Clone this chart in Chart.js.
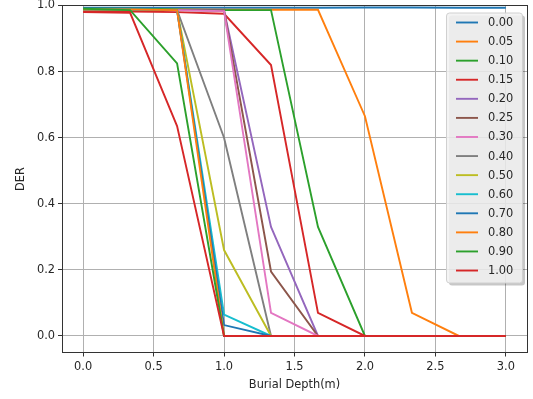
<!DOCTYPE html>
<html>
<head>
<meta charset="utf-8">
<script src="https://cdn.jsdelivr.net/npm/chart.js@4.4.1/dist/chart.umd.min.js"></script>
<style>
    html, body { margin: 0; padding: 0; background: #ffffff; }
    #contenedor { width: 533px; height: 399px; }
</style>
</head>
<body>
<div id="contenedor"><canvas id="graficaDER"></canvas></div>
<script>
// Profundidades de enterramiento (eje X)
const profundidades = [0, 1/3, 2/3, 1, 4/3, 5/3, 2, 7/3, 8/3, 3];

// Etiquetas de cada serie
const etiquetasSeries = ['0.00', '0.05', '0.10', '0.15', '0.20', '0.25', '0.30',
                         '0.40', '0.50', '0.60', '0.70', '0.80', '0.90', '1.00'];

// Valores DER
const der000 = [0.993, 0.993, 0.993, 0.993, 0.993, 0.993, 0.994, 0.994, 0.993, 0.993];
const der005 = [0.988, 0.988, 0.988, 0.987, 0.987, 0.987, 0.665, 0.07, 0, 0];
const der010 = [0.990, 0.990, 0.988, 0.986, 0.986, 0.33, 0, 0, 0, 0];
const der015 = [0.982, 0.982, 0.980, 0.975, 0.82, 0.07, 0, 0, 0, 0];
const der020 = [0.986, 0.986, 0.986, 0.985, 0.33, 0, 0, 0, 0, 0];
const der025 = [0.986, 0.986, 0.986, 0.985, 0.195, 0, 0, 0, 0, 0];
const der030 = [0.986, 0.986, 0.986, 0.983, 0.07, 0, 0, 0, 0, 0];
const der040 = [0.988, 0.988, 0.986, 0.60, 0, 0, 0, 0, 0, 0];
const der050 = [0.988, 0.988, 0.986, 0.26, 0, 0, 0, 0, 0, 0];
const der060 = [0.988, 0.988, 0.986, 0.065, 0, 0, 0, 0, 0, 0];
const der070 = [0.988, 0.988, 0.986, 0.033, 0, 0, 0, 0, 0, 0];
const der080 = [0.988, 0.988, 0.986, 0, 0, 0, 0, 0, 0, 0];
const der090 = [0.990, 0.986, 0.825, 0, 0, 0, 0, 0, 0, 0];
const der100 = [0.980, 0.978, 0.635, 0, 0, 0, 0, 0, 0, 0];

const seriesDER = [der000, der005, der010, der015, der020, der025, der030,
                   der040, der050, der060, der070, der080, der090, der100];

// Marcas de los ejes
const ticksX = [0, 0.5, 1.0, 1.5, 2.0, 2.5, 3.0];
const ticksY = [0, 0.2, 0.4, 0.6, 0.8, 1.0];

// Paleta tab10 de matplotlib
const coloresTab10 = ['#1f77b4', '#ff7f0e', '#2ca02c', '#d62728', '#9467bd',
                      '#8c564b', '#e377c2', '#7f7f7f', '#bcbd22', '#17becf'];

const fuente = 'DejaVu Sans';
const tamFuente = 11.4;

const datasets = seriesDER.map((serie, i) => ({
    label: etiquetasSeries[i],
    data: serie.map((v, j) => ({ x: profundidades[j], y: v })),
    borderColor: coloresTab10[i % 10],
    backgroundColor: coloresTab10[i % 10],
    borderWidth: 1.9,
    pointRadius: 0,
    tension: 0,
    fill: false,
    order: seriesDER.length - 1 - i   // las últimas series quedan encima, como en matplotlib
}));

// Alinea a medio píxel igual que Chart.js para líneas de 1 px
const alinear = (v) => Math.round(v - 0.5) + 0.5;

// Marco completo alrededor del área de la gráfica
const pluginMarco = {
    id: 'marco',
    afterDatasetsDraw(chart) {
        const { ctx, chartArea: a } = chart;
        const l = alinear(a.left), r = alinear(a.right);
        const t = alinear(a.top), b = alinear(a.bottom);
        ctx.save();
        ctx.strokeStyle = '#333333';
        ctx.lineWidth = 1;
        ctx.strokeRect(l, t, r - l, b - t);
        ctx.restore();
    }
};

// Leyenda estilo matplotlib (caja redondeada con sombra)
const pluginLeyenda = {
    id: 'leyendaMpl',
    afterDraw(chart) {
        const { ctx, chartArea: a } = chart;
        const items = chart.data.datasets;
        const paso = 19.08;
        const ancho = 76, alto = 270;
        const x0 = a.right - 5 - ancho, y0 = a.top + 7;
        ctx.save();
        // sombra
        ctx.fillStyle = 'rgba(0,0,0,0.22)';
        ctx.beginPath();
        ctx.roundRect(x0 + 3, y0 + 3, ancho, alto, 3);
        ctx.fill();
        // caja
        ctx.fillStyle = 'rgba(242,242,242,0.85)';
        ctx.strokeStyle = '#d0d0d0';
        ctx.lineWidth = 1;
        ctx.beginPath();
        ctx.roundRect(x0 + 0.5, y0 + 0.5, ancho, alto, 3);
        ctx.fill();
        ctx.stroke();

        ctx.font = `${tamFuente}px "${fuente}"`;
        ctx.textBaseline = 'middle';
        ctx.textAlign = 'left';
        items.forEach((ds, i) => {
            const y = y0 + 10 + i * paso;
            ctx.strokeStyle = ds.borderColor;
            ctx.lineWidth = 1.9;
            ctx.beginPath();
            ctx.moveTo(x0 + 10, y);
            ctx.lineTo(x0 + 32, y);
            ctx.stroke();
            ctx.fillStyle = '#262626';
            ctx.fillText(ds.label, x0 + 42, y + 0.5);
        });
        ctx.restore();
    }
};

new Chart(document.getElementById('graficaDER'), {
    type: 'line',
    data: { datasets },
    options: {
        responsive: true,
        maintainAspectRatio: false,
        animation: false,
        layout: { padding: { top: 5.5, right: 6, left: 0, bottom: 0 } },
        plugins: {
            legend: { display: false },
            tooltip: { enabled: false }
        },
        scales: {
            x: {
                type: 'linear',
                min: -0.15,
                max: 3.15,
                afterBuildTicks: (scale) => { scale.ticks = ticksX.map(v => ({ value: v })); },
                afterFit: (scale) => { scale.height = 46.5; scale.paddingLeft = 0; scale.paddingRight = 0; },
                grid: { color: '#b0b0b0', lineWidth: 1, tickColor: '#333333', tickLength: 4 },
                border: { display: true, color: '#333333' },
                ticks: {
                    color: '#262626',
                    font: { family: fuente, size: tamFuente },
                    padding: 4,
                    maxRotation: 0,
                    callback: (v) => Number(v).toFixed(1)
                },
                title: {
                    display: true,
                    text: 'Burial Depth(m)',
                    color: '#262626',
                    font: { family: fuente, size: tamFuente },
                    padding: { top: 2, bottom: 7 }
                }
            },
            y: {
                type: 'linear',
                min: -0.05,
                max: 1.0,
                afterBuildTicks: (scale) => { scale.ticks = ticksY.map(v => ({ value: v })); },
                // sin relleno extra arriba: el área empieza justo bajo el borde
                afterFit: (scale) => { scale.width = 62; scale.paddingTop = 0; scale.paddingBottom = 0; },
                grid: { color: '#b0b0b0', lineWidth: 1, tickColor: '#333333', tickLength: 4 },
                border: { display: true, color: '#333333' },
                ticks: {
                    color: '#262626',
                    font: { family: fuente, size: tamFuente },
                    padding: 3,
                    callback: (v) => Number(v).toFixed(1)
                },
                title: {
                    display: true,
                    text: 'DER',
                    color: '#262626',
                    font: { family: fuente, size: tamFuente },
                    padding: { top: 14, bottom: 6 }
                }
            }
        }
    },
    plugins: [pluginMarco, pluginLeyenda]
});
</script>
</body>
</html>
